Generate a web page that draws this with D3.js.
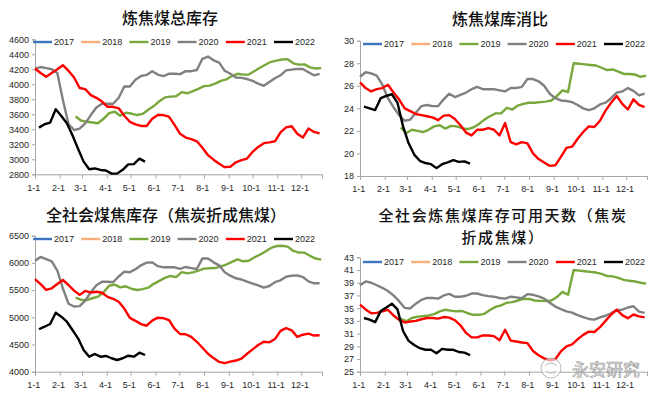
<!DOCTYPE html>
<meta charset="utf-8">
<style>
body { margin: 0; background: #fff; }
svg { display: block; }
.tick text { font-family: "Liberation Sans", Arial, sans-serif; font-size: 9px; fill: #262626; }
</style>
<svg width="655" height="397"></svg>
<script src="https://cdn.jsdelivr.net/npm/d3@7"></script>
<script>
var svg = d3.select("svg");

// month ticks (day of year) and their labels
var monthDays = [0, 31, 59, 90, 120, 151, 181, 212, 243, 273, 304, 334];
var monthLabels = ["1-1", "2-1", "3-1", "4-1", "5-1", "6-1", "7-1", "8-1", "9-1", "10-1", "11-1", "12-1"];
var years = ["2017", "2018", "2019", "2020", "2021", "2022"];
// first weekly observation (day of year) per year
var startDay = { "2019": 51, "2020": 0, "2021": 0, "2022": 5 };

// 炼焦煤总库存
var stock2019 = [3570,3515,3500,3490,3480,3540,3615,3635,3580,3620,3610,3590,3605,3660,3710,3775,3825,3835,3840,3895,
  3880,3910,3940,3975,3982,4010,4045,4065,4110,4140,4129,4130,4175,4220,4260,4300,4316,4330,4335,4280,
  4262,4265,4225,4210,4215];
var stock2020 = [4210,4230,4215,4200,4150,3790,3470,3390,3410,3480,3590,3690,3740,3740,3740,3820,3970,3970,4060,4110,
  4125,4175,4130,4110,4140,4140,4135,4175,4175,4190,4340,4370,4320,4290,4180,4140,4090,4085,4070,4045,
  4010,3980,4030,4080,4120,4185,4195,4205,4205,4160,4120,4140];
var stock2021 = [4210,4150,4100,4150,4200,4255,4180,4090,3950,3935,3855,3820,3770,3700,3700,3680,3580,3500,3465,3445,
  3445,3540,3590,3590,3570,3460,3340,3290,3270,3240,3155,3055,2995,2940,2895,2900,2960,2990,3010,3100,
  3165,3215,3225,3240,3360,3425,3440,3340,3290,3410,3365,3345];
var stock2022 = [3422,3467,3489,3667,3578,3480,3320,3140,2969,2867,2878,2858,2850,2809,2809,2860,2933,2935,3009,2969];

// 炼焦煤库消比
var ratio2019 = [22.3,21.8,22.1,22.0,21.9,22.1,22.4,22.5,22.2,22.45,22.4,22.25,22.15,22.3,22.6,23.0,23.3,23.55,23.55,24.05,
  23.9,24.25,24.4,24.5,24.5,24.55,24.6,24.7,25.1,25.6,25.45,28.0,27.95,27.9,27.85,27.8,27.6,27.4,27.45,27.25,
  27.05,27.05,27.0,26.8,26.9];
var ratio2020 = [26.8,27.2,27.1,26.9,26.1,24.9,24.1,23.4,22.9,23.0,23.6,24.2,24.3,24.2,24.2,24.8,25.3,25.0,25.2,25.4,
  25.7,25.9,25.7,25.7,25.7,25.6,25.5,25.8,25.8,25.9,26.6,26.6,26.4,26.0,25.3,24.9,24.7,24.65,24.55,24.3,
  24.0,23.85,24.0,24.35,24.5,24.9,25.4,25.5,25.8,25.55,25.15,25.3];
var ratio2021 = [26.3,25.8,25.5,25.7,25.8,26.1,25.4,24.8,24.0,23.75,23.5,23.4,23.3,23.2,22.95,23.35,23.4,23.05,22.5,21.85,
  21.6,22.1,22.1,22.25,22.1,21.6,22.7,21.0,20.8,21.0,20.9,20.0,19.5,19.2,18.9,18.95,19.7,20.5,20.6,21.3,
  21.9,22.4,22.35,22.9,23.8,24.5,25.1,24.4,23.9,24.8,24.3,24.1];
var ratio2022 = [24.15,24.0,23.85,24.9,25.1,25.25,24.5,22.4,20.9,19.9,19.35,19.15,19.05,18.7,19.05,19.2,19.4,19.25,19.3,19.1];

// 全社会煤焦库存（焦炭折成焦煤）
var social2019 = [5360,5320,5318,5350,5380,5460,5580,5600,5550,5570,5525,5502,5518,5544,5615,5670,5725,5760,5738,5830,
  5808,5826,5860,5895,5901,5905,5935,5970,6020,6065,6030,6040,6100,6150,6210,6275,6310,6315,6300,6220,
  6190,6188,6130,6080,6060];
var social2020 = [6040,6110,6070,6030,5860,5530,5250,5198,5205,5305,5460,5590,5654,5654,5645,5750,5840,5827,5885,5955,
  6005,6010,5940,5919,5919,5919,5890,5925,5905,5888,6084,6080,6010,5955,5830,5765,5717,5695,5654,5620,
  5585,5544,5575,5645,5680,5745,5765,5770,5740,5660,5625,5625];
var social2021 = [5700,5610,5505,5533,5612,5686,5594,5490,5412,5484,5455,5470,5452,5375,5340,5285,5160,4990,4935,4875,
  4845,4940,4993,4985,4950,4790,4693,4688,4640,4550,4440,4330,4250,4180,4158,4185,4205,4240,4330,4410,
  4490,4550,4540,4600,4750,4800,4760,4640,4680,4700,4665,4670];
var social2022 = [4780,4827,4877,5085,5011,4919,4767,4614,4399,4276,4326,4276,4289,4247,4215,4247,4294,4276,4350,4307];

// 全社会炼焦煤库存可用天数（焦炭折成焦煤）
var days2019 = [33.3,32.95,33.45,33.65,33.75,33.85,34.05,34.5,34.75,34.6,34.5,34.55,34.2,33.95,33.95,34.1,34.7,35.2,35.45,35.85,
  35.95,36.2,36.45,36.45,36.2,36.15,36.1,36.2,36.75,37.55,37.1,41.0,40.9,40.8,40.7,40.6,40.4,40.05,40.0,39.75,
  39.45,39.3,39.2,39.0,38.85];
var days2020 = [38.6,39.2,39.0,38.6,38.2,37.7,37.0,36.1,35.05,34.95,35.7,36.3,36.6,36.6,36.5,37.0,37.25,36.8,36.8,36.95,
  37.3,37.3,37.05,36.9,36.8,36.6,36.5,36.8,36.7,36.55,37.2,37.1,36.85,36.5,35.85,35.25,34.85,34.5,34.3,33.9,
  33.6,33.3,33.2,33.55,33.8,34.2,34.7,34.75,35.1,35.3,34.45,34.25];
var days2021 = [35.55,34.8,34.2,34.25,34.5,34.75,33.85,33.15,32.75,32.9,33.0,33.25,33.45,33.45,33.35,33.6,33.5,33.1,32.3,31.1,
  30.4,30.4,30.7,30.7,30.6,29.95,31.6,29.9,29.75,29.6,29.5,28.25,27.6,27.1,26.8,26.95,28.2,29.0,29.3,30.1,
  30.8,31.3,31.25,32.0,33.0,34.0,34.75,33.9,33.4,34.0,33.7,33.55];
var days2022 = [33.45,33.2,32.8,34.55,35.1,35.7,34.8,31.4,29.85,29.2,28.7,28.45,28.45,27.9,28.6,28.45,28.45,28.1,28.0,27.6];

var color = { "2017": "#3c74bf", "2018": "#f7ad7c", "2019": "#78a83c", "2020": "#808080", "2021": "#ff0000", "2022": "#000000" };

var panels = [
  { title: ["炼焦煤总库存"], tx: 170, ty: 24, fs: 16, ls: 0, left: 35, right: 322, top: 39.3, bottom: 174.3,
    domain: [2800, 4600], ticks: d3.range(2800, 4601, 200), legendY: 42, legendX: 33,
    series: { "2019": stock2019, "2020": stock2020, "2021": stock2021, "2022": stock2022 } },
  { title: ["炼焦煤库消比"], tx: 500, ty: 25, fs: 16, ls: 0, left: 360, right: 647, top: 40.7, bottom: 176,
    domain: [18, 30], ticks: d3.range(18, 31, 2), legendY: 44, legendX: 363,
    series: { "2019": ratio2019, "2020": ratio2020, "2021": ratio2021, "2022": ratio2022 } },
  { title: ["全社会煤焦库存（焦炭折成焦煤）"], tx: 166, ty: 221, fs: 16, ls: 0, left: 35, right: 322, top: 235.7, bottom: 371.7,
    domain: [4000, 6500], ticks: d3.range(4000, 6501, 500), legendY: 239, legendX: 33,
    series: { "2019": social2019, "2020": social2020, "2021": social2021, "2022": social2022 } },
  { title: ["全社会炼焦煤库存可用天数（焦炭", "折成焦煤）"], tx: 503, ty: 221.3, fs: 15, ls: 1.6, left: 360, right: 647, top: 257.3, bottom: 371.7,
    domain: [25, 43], ticks: d3.range(25, 44, 2), legendY: 262, legendX: 363,
    series: { "2019": days2019, "2020": days2020, "2021": days2021, "2022": days2022 } }
];

panels.forEach(function(p) {
  var g = svg.append("g");
  var x = d3.scaleLinear().domain([0, 360]).range([p.left, p.right]);
  var y = d3.scaleLinear().domain(p.domain).range([p.bottom, p.top]);

  // title, one text per line
  p.title.forEach(function(t, i) {
    g.append("text")
      .attr("x", p.tx).attr("y", p.ty + i * 22)
      .attr("text-anchor", "middle")
      .style("font-family", "'Noto Sans CJK SC', sans-serif")
      .style("font-size", p.fs + "px")
      .style("letter-spacing", p.ls + "px")
      .style("font-weight", 500)
      .style("fill", "#111")
      .text(t);
  });

  // axes
  var ya = g.append("g").attr("transform", "translate(" + p.left + ",0)")
    .call(d3.axisLeft(y).tickValues(p.ticks).tickSize(3).tickPadding(3).tickFormat(d3.format("d")));
  var xa = g.append("g").attr("transform", "translate(0," + p.bottom + ")")
    .call(d3.axisBottom(x).tickValues(monthDays.concat([360])).tickSize(4).tickPadding(6)
      .tickFormat(function(d, i) { return monthLabels[i] || ""; }));
  xa.selectAll(".tick text").attr("dx", "-0.2em");
  [ya, xa].forEach(function(a) {
    a.select(".domain").attr("stroke", "#a6a6a6");
    a.selectAll(".tick line").attr("stroke", "#a6a6a6");
  });

  // lines
  var line = d3.line()
    .x(function(d) { return x(d[0]); })
    .y(function(d) { return y(d[1]); });
  ["2019", "2020", "2021", "2022"].forEach(function(yr) {
    var pts = p.series[yr].map(function(v, i) { return [startDay[yr] + i * 7, v]; });
    g.append("path")
      .datum(pts)
      .attr("fill", "none")
      .attr("stroke", color[yr])
      .attr("stroke-width", 2.4)
      .attr("stroke-linejoin", "round")
      .attr("d", line);
  });

  // legend
  var lg = g.append("g").attr("transform", "translate(" + p.legendX + "," + p.legendY + ")");
  years.forEach(function(yr, i) {
    var it = lg.append("g").attr("transform", "translate(" + (i * 48.2) + ",0)");
    it.append("line").attr("x1", 0).attr("x2", 19).attr("y1", 0).attr("y2", 0)
      .attr("stroke", color[yr]).attr("stroke-width", 2.4);
    it.append("text").attr("x", 21).attr("y", 3.3)
      .style("font-family", "'Liberation Sans', Arial, sans-serif")
      .style("font-size", "9px").style("fill", "#262626")
      .text(yr);
  });
});

// watermark
var wm = svg.append("g").attr("opacity", 0.85);
wm.append("circle").attr("cx", 551).attr("cy", 368).attr("r", 10)
  .attr("fill", "#fff").attr("fill-opacity", 0.7).attr("stroke", "#9a9a9a").attr("stroke-width", 0.8);
wm.append("path").attr("d", "M545,366 q6,-6 12,0 M546,371 q5,4 10,0")
  .attr("fill", "none").attr("stroke", "#9a9a9a").attr("stroke-width", 0.8);
wm.append("text").attr("x", 572).attr("y", 376)
  .style("font-family", "'Noto Sans CJK SC', sans-serif")
  .style("font-size", "17px")
  .attr("fill", "#fff").attr("fill-opacity", 0.8)
  .attr("stroke", "#8a8a8a").attr("stroke-width", 0.7)
  .text("永安研究");
</script>
